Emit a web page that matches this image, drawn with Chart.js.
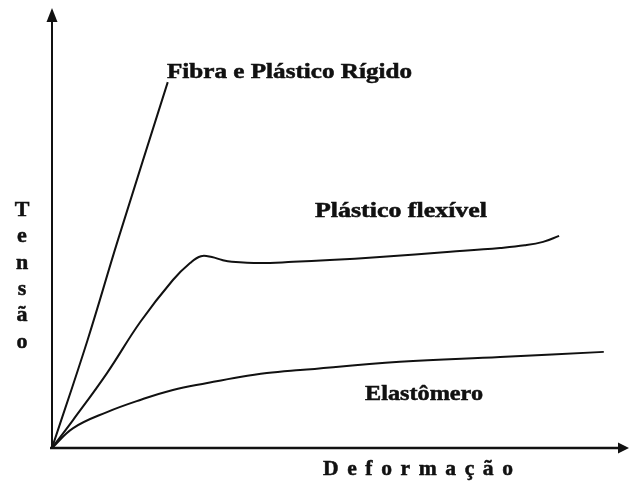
<!DOCTYPE html>
<html>
<head>
<meta charset="utf-8">
<script src="https://cdn.jsdelivr.net/npm/chart.js@4"></script>
<style>
  html, body { margin: 0; padding: 0; background: #fff; }
  #wrap { width: 629px; height: 484px; position: relative; }
</style>
</head>
<body>
<div id="wrap"><canvas id="grafico"></canvas></div>
<script>
// curvas tensão x deformação (unidades arbitrárias, 0-100)
const fibraX = [0, 6.2, 11.5, 20.2];
const fibraY = [0, 24.9, 48.0, 84.5];

const flexivelX = [0, 3.7, 9.6, 15.4, 21.1, 24.1, 26.0, 27.9, 29.7, 31.4, 36.3, 42.1, 48.5, 57.2, 69.5, 78.2, 82.5, 85.7, 88.5];
const flexivelY = [0, 6.5, 17.3, 29.1, 38.8, 42.7, 44.3, 44.1, 43.4, 43.0, 42.7, 43.0, 43.4, 44.1, 45.3, 46.2, 46.8, 47.6, 49.0];

const elastX = [0, 3.7, 9.6, 15.4, 21.1, 27.1, 32.8, 37.5, 43.3, 60.7, 78.2, 96.3];
const elastY = [0, 4.6, 8.3, 11.1, 13.4, 15.0, 16.4, 17.3, 18.0, 19.9, 21.0, 22.2];

const rotulos = ["Fibra e Plástico Rígido", "Plástico flexível", "Elastômero"];
const tituloX = "Deformação";
const tituloY = "Tensão";

function pontos(xs, ys) {
  return xs.map((x, i) => ({ x: x, y: ys[i] }));
}

function serie(label, xs, ys) {
  return {
    label: label,
    data: pontos(xs, ys),
    borderColor: "#111",
    borderWidth: 2,
    pointRadius: 0,
    fill: false,
    tension: 0.4,
  };
}

// texto esticado na horizontal (o original é mais largo que Times)
function textoLargo(ctx, txt, x, y, largura, espaco) {
  espaco = espaco || 0;
  const chars = Array.from(txt);
  const ws = chars.map((c) => ctx.measureText(c).width);
  const total = espaco === 0
    ? ctx.measureText(txt).width
    : ws.reduce((a, b) => a + b, 0) + espaco * (chars.length - 1);
  ctx.save();
  ctx.translate(x, y);
  ctx.scale(largura / total, 1);
  if (espaco === 0) {
    ctx.fillText(txt, 0, 0);
    ctx.strokeText(txt, 0, 0);
  } else {
    let cx = 0;
    chars.forEach((c, i) => {
      ctx.fillText(c, cx, 0);
      ctx.strokeText(c, cx, 0);
      cx += ws[i] + espaco;
    });
  }
  ctx.restore();
}

const eixosPlugin = {
  id: "eixos",
  afterDraw(chart) {
    const ctx = chart.ctx;
    const a = chart.chartArea;
    ctx.save();
    ctx.strokeStyle = "#111";
    ctx.fillStyle = "#111";

    // eixo Y com seta
    ctx.lineWidth = 2;
    ctx.beginPath();
    ctx.moveTo(a.left, a.bottom + 1);
    ctx.lineTo(a.left, 20);
    ctx.stroke();
    ctx.beginPath();
    ctx.moveTo(a.left, 8);
    ctx.lineTo(a.left - 5.5, 22);
    ctx.lineTo(a.left + 5.5, 22);
    ctx.closePath();
    ctx.fill();

    // eixo X com seta
    ctx.lineWidth = 2.5;
    ctx.beginPath();
    ctx.moveTo(a.left - 2, a.bottom);
    ctx.lineTo(620, a.bottom);
    ctx.stroke();
    ctx.beginPath();
    ctx.moveTo(629, a.bottom);
    ctx.lineTo(618, a.bottom - 5.5);
    ctx.lineTo(618, a.bottom + 5.5);
    ctx.closePath();
    ctx.fill();

    // rótulos das curvas (traço fino para engrossar)
    ctx.lineWidth = 0.5;
    ctx.textBaseline = "alphabetic";
    ctx.textAlign = "left";
    ctx.font = "bold 20px 'Liberation Serif', 'Times New Roman', serif";
    textoLargo(ctx, rotulos[0], 167, 78, 245);
    textoLargo(ctx, rotulos[1], 315, 217, 172);
    textoLargo(ctx, rotulos[2], 365, 400, 118);

    // título do eixo X, letras espaçadas
    ctx.font = "bold 20px 'Liberation Serif', 'Times New Roman', serif";
    textoLargo(ctx, tituloX, 323, 475, 190, 8);

    // título do eixo Y, letras empilhadas
    ctx.font = "bold 22px 'Liberation Serif', 'Times New Roman', serif";
    ctx.textAlign = "center";
    Array.from(tituloY).forEach((c, i) => {
      ctx.fillText(c, 22, 216 + i * 26.3);
      ctx.strokeText(c, 22, 216 + i * 26.3);
    });
    ctx.restore();
  },
};

const config = {
  type: "line",
  data: {
    datasets: [
      serie(rotulos[0], fibraX, fibraY),
      serie(rotulos[1], flexivelX, flexivelY),
      serie(rotulos[2], elastX, elastY),
    ],
  },
  options: {
    responsive: true,
    maintainAspectRatio: false,
    animation: false,
    layout: { padding: { left: 52, right: 4, top: 15, bottom: 36 } },
    plugins: {
      legend: { display: false },
      tooltip: { enabled: false },
    },
    scales: {
      x: { type: "linear", min: 0, max: 100, display: false },
      y: { type: "linear", min: 0, max: 100, display: false },
    },
  },
  plugins: [eixosPlugin],
};

const ctx = document.getElementById("grafico").getContext("2d");
new Chart(ctx, config);
</script>
</body>
</html>
